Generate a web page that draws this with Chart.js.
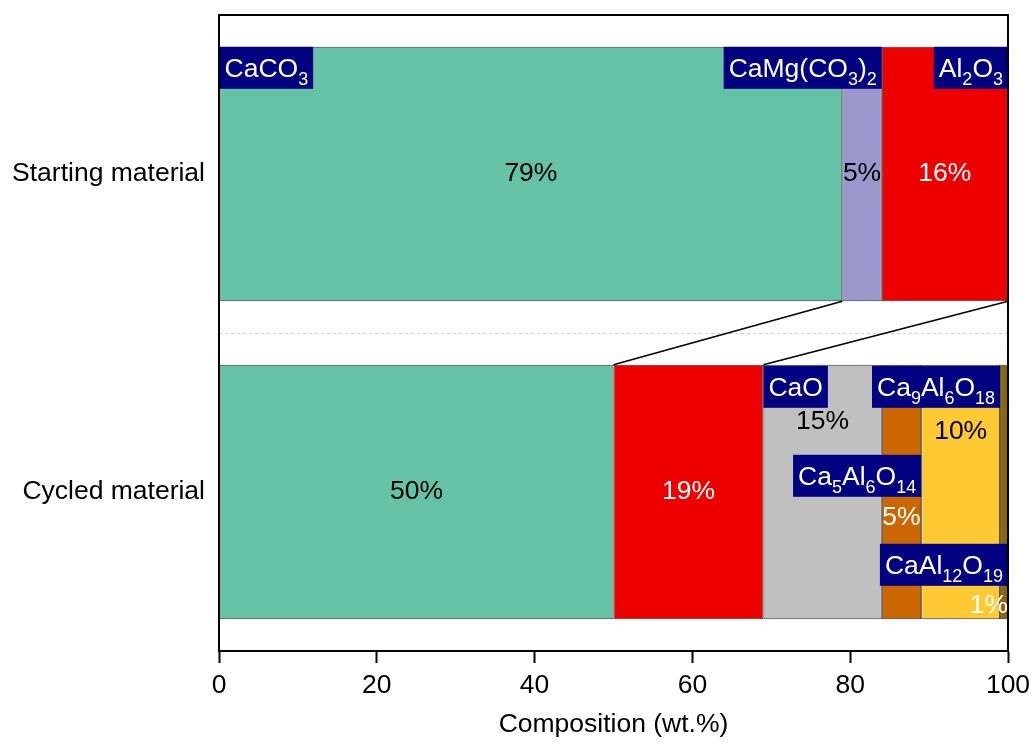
<!DOCTYPE html>
<html lang="en">
  <head>
    <meta charset="UTF-8" />
    <title>Composition</title>
    <script src="https://cdn.jsdelivr.net/npm/chart.js"></script>
    <style>
      html, body { margin: 0; padding: 0; background: #fff; }
      #wrap { width: 1035px; height: 745px; }
    </style>
  </head>
  <body>
    <div id="wrap"><canvas id="chart"></canvas></div>
    <script>
      // rows of the chart
      const materials = ["Starting material", "Cycled material"];
      // phase names, "_n" marks a subscript
      const phases = ["CaCO_3", "CaMg(CO_3)_2", "Al_2O_3", "CaO", "Ca_5Al_6O_14", "Ca_9Al_6O_18", "CaAl_12O_19"];
      // wt.% per phase: [starting, cycled]
      const caco3 = [79, 50];
      const camg = [5, null];
      const al2o3 = [16, 19];
      const cao = [null, 15];
      const ca5 = [null, 5];
      const ca9 = [null, 10];
      const ca12 = [null, 1];
      const xTicks = [0, 20, 40, 60, 80, 100];

      const values = [caco3, camg, al2o3, cao, ca5, ca9, ca12];
      const colors = ["#66c2a5", "#9b96cb", "#ee0000", "#c0c0c0", "#cc6600", "#ffc933", "#8b6508"];

      const FONT = "Liberation Sans, Arial, sans-serif";
      const SIZE = 26.5;

      function richParts(s) {
        return s.split(/_(\d+)/);
      }

      function richWidth(ctx, s) {
        let w = 0;
        richParts(s).forEach((p, i) => {
          ctx.font = (i % 2 ? "18px " : SIZE + "px ") + FONT;
          w += ctx.measureText(p).width;
        });
        return w;
      }

      function drawRich(ctx, s, x, y) {
        ctx.textBaseline = "alphabetic";
        ctx.textAlign = "left";
        richParts(s).forEach((p, i) => {
          ctx.font = (i % 2 ? "18px " : SIZE + "px ") + FONT;
          ctx.fillText(p, x, i % 2 ? y + 8 : y);
          x += ctx.measureText(p).width;
        });
      }

      function bar(chart, ds, row) {
        const el = chart.getDatasetMeta(ds).data[row];
        const p = el.getProps(["x", "y", "base", "height"], true);
        return { left: Math.min(p.x, p.base), right: Math.max(p.x, p.base), top: p.y - p.height / 2, bottom: p.y + p.height / 2, cy: p.y };
      }

      // name boxes: which segment, alignment, offset from bar top
      const boxes = [
        { ds: 0, row: 0, align: "left", dy: 0 },
        { ds: 1, row: 0, align: "right", dy: 0 },
        { ds: 2, row: 0, align: "right", dy: 0 },
        { ds: 3, row: 1, align: "left", dy: 1 },
        { ds: 5, row: 1, align: "right", dy: 1 },
        { ds: 4, row: 1, align: "right", dy: 90 },
        { ds: 6, row: 1, align: "right", dy: 179 },
      ];

      // percentage labels: dy null = centred vertically
      const pcts = [
        { ds: 0, row: 0, color: "#000" },
        { ds: 1, row: 0, color: "#000" },
        { ds: 2, row: 0, color: "#fff" },
        { ds: 0, row: 1, color: "#000" },
        { ds: 2, row: 1, color: "#fff" },
        { ds: 3, row: 1, color: "#000", dy: 57 },
        { ds: 5, row: 1, color: "#000", dy: 67 },
        { ds: 4, row: 1, color: "#fff", dy: 153 },
        { ds: 6, row: 1, color: "#fff", dy: 241, align: "right" },
      ];

      const decorPlugin = {
        id: "decor",
        afterDatasetsDraw(chart) {
          const ctx = chart.ctx;
          ctx.save();

          // links between the two bars
          ctx.strokeStyle = "#000";
          ctx.lineWidth = 1.5;
          [0, 2].forEach((ds) => {
            const a = bar(chart, ds, 0);
            const b = bar(chart, ds, 1);
            ctx.beginPath();
            ctx.moveTo(a.right, a.bottom);
            ctx.lineTo(b.right, b.top);
            ctx.stroke();
          });

          // percentages
          pcts.forEach((l) => {
            const b = bar(chart, l.ds, l.row);
            const v = values[l.ds][l.row];
            ctx.font = SIZE + "px " + FONT;
            ctx.fillStyle = l.color;
            ctx.textBaseline = "middle";
            let x = (b.left + b.right) / 2;
            ctx.textAlign = "center";
            if (l.align === "right") {
              ctx.textAlign = "right";
              x = b.right;
            }
            const y = l.dy == null ? b.cy : b.top + l.dy;
            ctx.fillText(v + "%", x, y);
          });

          // phase name boxes
          boxes.forEach((l) => {
            const b = bar(chart, l.ds, l.row);
            const s = phases[l.ds];
            const w = richWidth(ctx, s) + 10;
            const h = 42;
            const x = l.align === "left" ? b.left : b.right - w;
            const y = b.top + l.dy;
            ctx.fillStyle = "#000080";
            ctx.fillRect(x, y, w, h);
            ctx.fillStyle = "#fff";
            drawRich(ctx, s, x + 5, y + 30);
          });
          ctx.restore();
        },
        afterDraw(chart) {
          const { left, right, top, bottom } = chart.chartArea;
          const ctx = chart.ctx;
          ctx.save();
          ctx.strokeStyle = "#000";
          ctx.lineWidth = 2;
          ctx.strokeRect(left, top, right - left, bottom - top);
          ctx.restore();
        },
      };

      new Chart(document.getElementById("chart"), {
        type: "bar",
        data: {
          labels: materials,
          datasets: phases.map((p, i) => ({
            label: p,
            data: values[i],
            backgroundColor: colors[i],
            borderColor: "#333",
            borderWidth: 1,
            borderSkipped: false,
            barPercentage: 0.8,
            categoryPercentage: 1,
          })),
        },
        options: {
          indexAxis: "y",
          responsive: true,
          maintainAspectRatio: false,
          animation: false,
          layout: { padding: { top: 15, right: 27, left: 0, bottom: 0 } },
          plugins: { legend: { display: false }, tooltip: { enabled: false } },
          scales: {
            x: {
              stacked: true,
              min: 0,
              max: 100,
              afterBuildTicks(scale) {
                scale.ticks = xTicks.map((v) => ({ value: v }));
              },
              afterFit(scale) {
                scale.height = 94;
                scale.paddingLeft = 0;
                scale.paddingRight = 0;
              },
              grid: { drawOnChartArea: false, drawTicks: true, tickLength: 12, tickWidth: 2, tickColor: "#000" },
              border: { display: true, color: "#000", width: 2 },
              ticks: { color: "#000", font: { family: FONT, size: SIZE }, padding: 7, maxRotation: 0 },
              title: { display: true, text: "Composition (wt.%)", color: "#000", font: { family: FONT, size: SIZE }, padding: { top: 3 } },
            },
            y: {
              stacked: true,
              offset: true,
              afterFit(scale) {
                scale.width = 219;
                scale.paddingTop = 0;
                scale.paddingBottom = 0;
              },
              grid: { offset: true, color: "#cccccc", lineWidth: 1, drawTicks: false },
              border: { display: false, dash: [3, 3] },
              ticks: { color: "#000", font: { family: FONT, size: SIZE }, padding: 14 },
            },
          },
        },
        plugins: [decorPlugin],
      });
    </script>
  </body>
</html>
